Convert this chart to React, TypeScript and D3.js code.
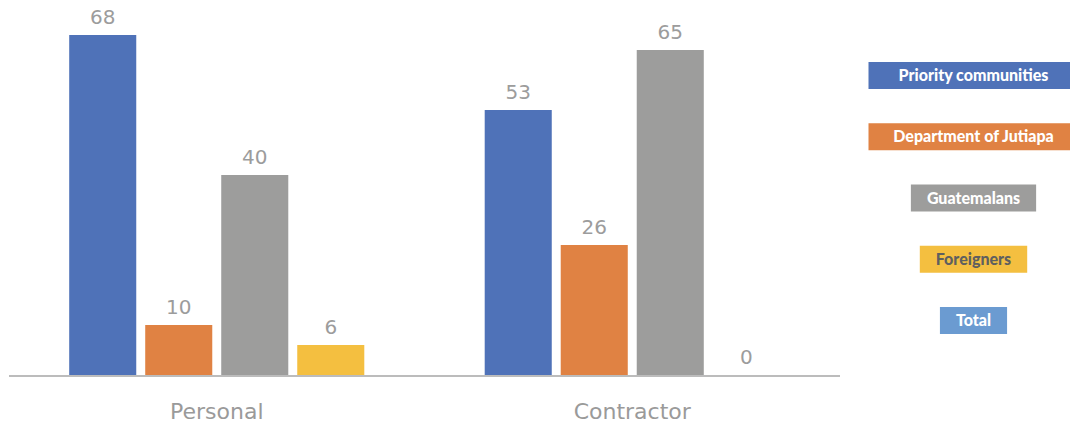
import React, { useEffect, useRef } from "react";
import * as d3 from "d3";

const categories = ["Personal", "Contractor"];
const seriesNames = ["Priority communities", "Department of Jutiapa", "Guatemalans", "Foreigners"];
const legendNames = ["Priority communities", "Department of Jutiapa", "Guatemalans", "Foreigners", "Total"];
const priorityValues = [68, 53];
const jutiapaValues = [10, 26];
const guatemalanValues = [40, 65];
const foreignerValues = [6, 0];
const seriesColors = ["#4f72b8", "#e08243", "#9d9d9c", "#f4bf40"];
const legendColors = ["#4f72b8", "#e08243", "#9d9d9c", "#f4bf40", "#6b9bd1"];
const legendTextColors = ["#ffffff", "#ffffff", "#ffffff", "#5f5f5f", "#ffffff"];

const W = 1070;
const H = 426;

export default function App() {
  const ref = useRef<SVGSVGElement>(null);

  useEffect(() => {
    const svg = d3.select(ref.current);
    svg.selectAll("*").remove();
    const values = [priorityValues, jutiapaValues, guatemalanValues, foreignerValues];

    const x0 = d3.scaleBand<string>().domain(categories).range([9, 840]).paddingInner(0).paddingOuter(0);
    const x1 = d3
      .scaleBand<string>()
      .domain(seriesNames)
      .range([0, x0.bandwidth()])
      .paddingInner(0.118)
      .paddingOuter(0.792);
    const y = d3.scaleLinear().domain([0, 70]).range([375, 25]);

    const font = "'DejaVu Sans', sans-serif";

    categories.forEach((cat, ci) => {
      const g = svg.append("g").attr("transform", `translate(${x0(cat)},0)`);
      seriesNames.forEach((s, si) => {
        const v = values[si][ci];
        g.append("rect")
          .attr("x", x1(s)!)
          .attr("y", y(v))
          .attr("width", x1.bandwidth())
          .attr("height", y(0) - y(v))
          .attr("fill", seriesColors[si]);
        g.append("text")
          .attr("x", x1(s)! + x1.bandwidth() / 2)
          .attr("y", y(v) - 11)
          .attr("text-anchor", "middle")
          .attr("font-family", font)
          .attr("font-size", 20)
          .attr("fill", "#9c9c9c")
          .text(String(v));
      });
      svg.append("text")
        .attr("x", x0(cat)! + x0.bandwidth() / 2)
        .attr("y", 419)
        .attr("text-anchor", "middle")
        .attr("font-family", font)
        .attr("font-size", 22)
        .attr("fill", "#9a9a9a")
        .text(cat);
    });

    svg.append("line")
      .attr("x1", 9)
      .attr("x2", 840)
      .attr("y1", 376)
      .attr("y2", 376)
      .attr("stroke", "#a6a6a6")
      .attr("stroke-width", 1.5);

    const ly = d3.scalePoint<string>().domain(legendNames).range([75.5, 320.5]);
    const cx = 973.5;
    legendNames.forEach((name, i) => {
      const g = svg.append("g");
      const rect = g.append("rect").attr("fill", legendColors[i]);
      const t = g
        .append("text")
        .attr("x", cx)
        .attr("y", ly(name)!)
        .attr("dy", "0.35em")
        .attr("text-anchor", "middle")
        .attr("font-family", "Lato, sans-serif")
        .attr("font-weight", 900)
        .attr("font-size", 16)
        .attr("fill", legendTextColors[i])
        .text(name);
      const tw = (t.node() as SVGTextElement).getComputedTextLength();
      const base = tw + 32;
      const finalW = base > 150 ? Math.max(base, 210) : base;
      rect
        .attr("x", cx - finalW / 2)
        .attr("y", ly(name)! - 13.5)
        .attr("width", finalW)
        .attr("height", 27);
    });
  }, []);

  return (
    <svg
      ref={ref}
      width={W}
      height={H}
      style={{ position: "absolute", left: 0, top: 0, background: "#ffffff" }}
    />
  );
}
